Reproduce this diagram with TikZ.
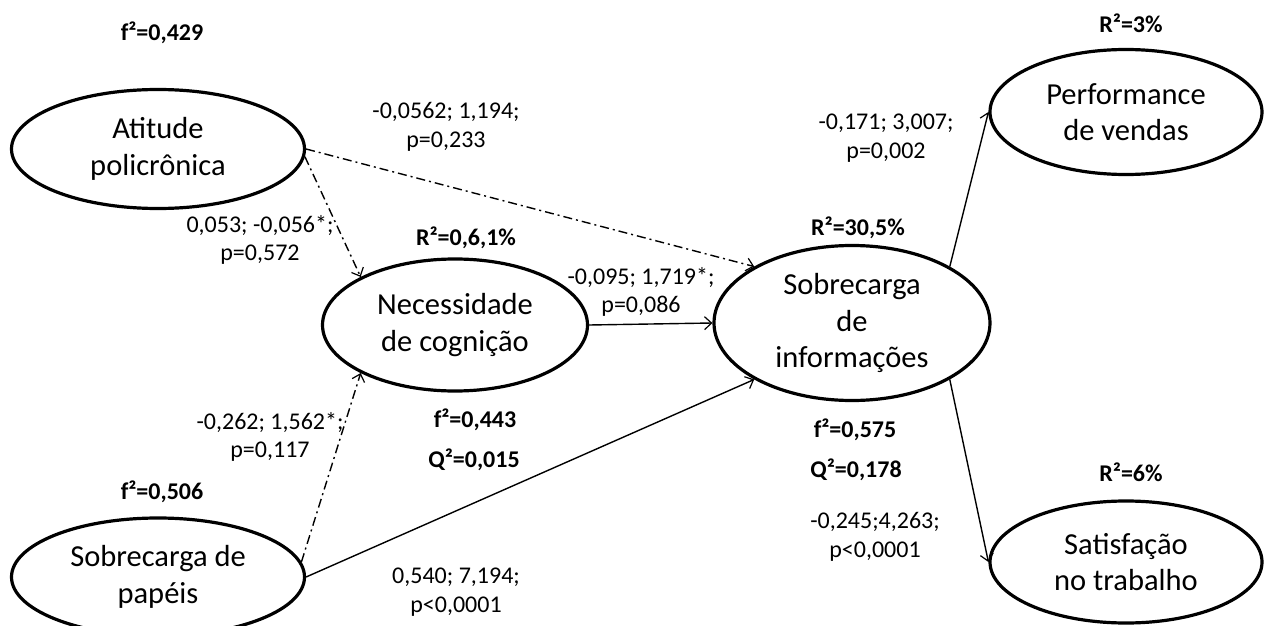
\documentclass[tikz,border=0pt]{standalone}
\usepackage{fontspec}
\setmainfont{Carlito}
\usetikzlibrary{arrows.meta,shapes.geometric}
\begin{document}
\begin{tikzpicture}[x=1pt,y=-1pt,
  construct/.style={draw, ellipse, line width=3.2pt, inner sep=0pt, align=center,
    font=\fontsize{30.5}{36.5}\selectfont},
  coef/.style={align=center, inner sep=0pt, font=\fontsize{24}{28.5}\selectfont},
  stat/.style={inner sep=0pt, font=\bfseries\fontsize{24}{28.5}\selectfont},
  link/.style={line width=1.4pt, -{Straight Barb[length=7pt,width=13pt,line width=1.2pt]}},
  dashdot/.style={dash pattern=on 9pt off 4pt on 2pt off 4pt}
]
\useasboundingbox (0,0) rectangle (1270,626);

% constructs
\node[construct, minimum width=293pt, minimum height=119pt] (atit) at (158,149) {Atitude\\policrônica};
\node[construct, minimum width=265pt, minimum height=132pt] (nec) at (455,325) {Necessidade\\de cognição};
\node[construct, minimum width=293pt, minimum height=118pt] (pap) at (158,577) {Sobrecarga de\\papéis};
\node[construct, minimum width=276pt, minimum height=155pt] (info) at (852,323) {Sobrecarga\\de\\informações};
\node[construct, minimum width=272pt, minimum height=125pt] (perf) at (1126,112) {Performance\\de vendas};
\node[construct, minimum width=272pt, minimum height=122pt] (sat) at (1126,562) {Satisfação\\no trabalho};

% statistics
\node[stat] (f1) at (162,33) {f²=0,429};
\node[stat] (r1) at (466,238) {R²=0,6,1\%};
\node[stat] (f2) at (475,420) {f²=0,443};
\node[stat] (q1) at (474,460) {Q²=0,015};
\node[stat] (f3) at (162,492) {f²=0,506};
\node[stat] (r2) at (858,228) {R²=30,5\%};
\node[stat] (f4) at (855,430) {f²=0,575};
\node[stat] (q2) at (856,470) {Q²=0,178};
\node[stat] (r3) at (1131,23) {R²=3\%};
\node[stat] (r4) at (1131,472) {R²=6\%};

% path coefficients
\node[coef] (c1) at (446,127) {-0,0562; 1,194;\\p=0,233};
\node[coef] (c2) at (260,240) {0,053; -0,056*;\\p=0,572};
\node[coef] (c3) at (641,292) {-0,095; 1,719*;\\p=0,086};
\node[coef] (c4) at (270,437) {-0,262; 1,562*;\\p=0,117};
\node[coef] (c5) at (456,592) {0,540; 7,194;\\p<0,0001};
\node[coef] (c6) at (886,138) {-0,171; 3,007;\\p=0,002};
\node[coef] (c7) at (875,537) {-0,245;4,263;\\p<0,0001};

% connectors
\draw[link, dashdot] (atit.east) -- (info.150);
\draw[link, dashdot] (atit.-3) -- (nec.153);
\draw[link, dashdot] (pap.6) -- (nec.207);
\draw[link] (pap.east) -- (info.210);
\draw[link] (nec.east) -- (info.west);
\draw[link] (info.30) -- (perf.west);
\draw[link] (info.-30) -- (sat.west);
\end{tikzpicture}
\end{document}
